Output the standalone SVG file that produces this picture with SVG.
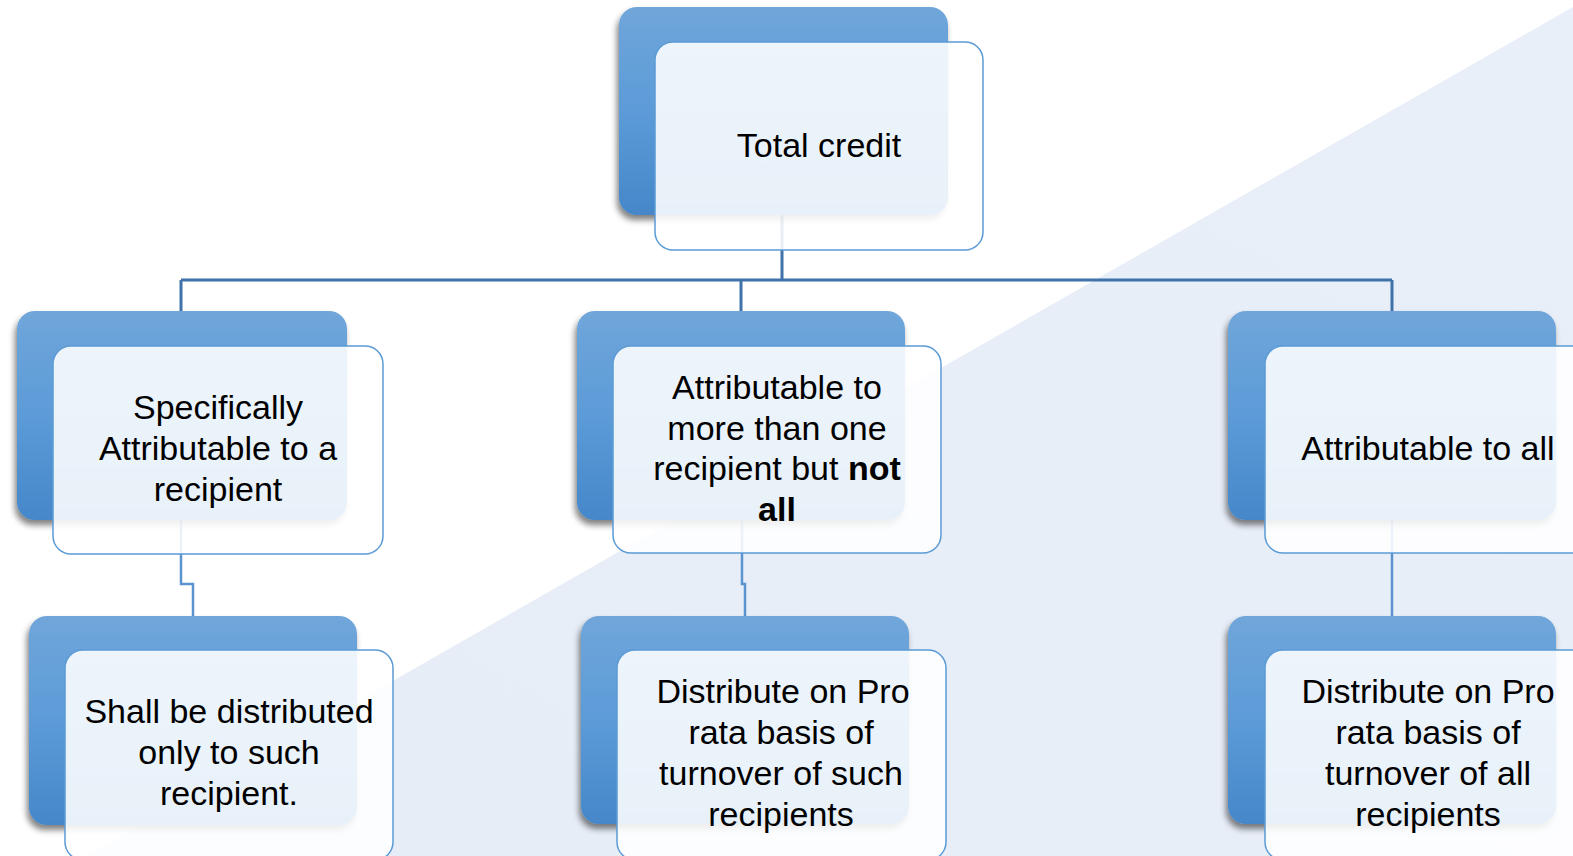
<svg xmlns="http://www.w3.org/2000/svg" width="1573" height="856" viewBox="0 0 1573 856">
<defs>
<linearGradient id="bg" x1="0" y1="1" x2="1" y2="0">
<stop offset="0" stop-color="#e6edf7"/>
<stop offset="1" stop-color="#e9eff8"/>
</linearGradient>
<linearGradient id="blue" x1="0" y1="0" x2="0" y2="1">
<stop offset="0" stop-color="#70a6da"/>
<stop offset="0.5" stop-color="#5c9bd8"/>
<stop offset="1" stop-color="#4587c9"/>
</linearGradient>
<filter id="sh" x="-10%" y="-10%" width="120%" height="125%">
<feGaussianBlur in="SourceAlpha" stdDeviation="3"/>
<feOffset dx="-2" dy="5" result="b"/>
<feComponentTransfer><feFuncA type="linear" slope="0.5"/></feComponentTransfer>
<feMerge><feMergeNode/><feMergeNode in="SourceGraphic"/></feMerge>
</filter>
</defs>
<style>
.back{fill:url(#blue);filter:url(#sh)}
.front{fill:#ffffff;fill-opacity:0.88;stroke:#5b9bd5;stroke-width:1.5}
.t{font-family:"Liberation Sans",Arial,sans-serif;font-size:34px;fill:#000;text-anchor:middle}
.c1{fill:none;stroke:#3f72a8;stroke-width:3}
.c2{fill:none;stroke:#5b93cf;stroke-width:2.5}
</style>
<rect width="1573" height="856" fill="#ffffff"/>
<polygon points="1573,7 1573,856 86,856" fill="url(#bg)"/>
<g id="connectors">
<path class="c1" d="M782,215 V280 M181,280 H1392 M181,280 V311 M741,280 V311 M1392,280 V311"/>
<path class="c2" d="M181,520 V584 H193 V616"/>
<path class="c2" d="M742,520 V584 H745 V616"/>
<path class="c2" d="M1392,520 V616"/>
</g>
<g id="node-total">
<rect class="back" x="619" y="7" width="329" height="208" rx="18"/>
<rect class="front" x="655" y="42" width="328" height="208" rx="18"/>
<text class="t" x="819" y="157">Total credit</text>
</g>
<g id="node-specific">
<rect class="back" x="17" y="311" width="330" height="209" rx="18"/>
<rect class="front" x="53" y="346" width="330" height="208" rx="18"/>
<text class="t" x="218" y="419">Specifically</text>
<text class="t" x="218" y="460">Attributable to a</text>
<text class="t" x="218" y="501">recipient</text>
</g>
<g id="node-morethanone">
<rect class="back" x="577" y="311" width="328" height="209" rx="18"/>
<rect class="front" x="613" y="346" width="328" height="207" rx="18"/>
<text class="t" x="777" y="399">Attributable to</text>
<text class="t" x="777" y="440">more than one</text>
<text class="t" x="777" y="480">recipient but <tspan font-weight="bold">not</tspan></text>
<text class="t" x="777" y="521" font-weight="bold">all</text>
</g>
<g id="node-all">
<rect class="back" x="1228" y="311" width="328" height="209" rx="18"/>
<rect class="front" x="1265" y="346" width="330" height="207" rx="18"/>
<text class="t" x="1428" y="460">Attributable to all</text>
</g>
<g id="node-such">
<rect class="back" x="29" y="616" width="328" height="209" rx="18"/>
<rect class="front" x="65" y="650" width="328" height="210" rx="18"/>
<text class="t" x="229" y="723">Shall be distributed</text>
<text class="t" x="229" y="764">only to such</text>
<text class="t" x="229" y="805">recipient.</text>
</g>
<g id="node-prorata-such">
<rect class="back" x="581" y="616" width="328" height="208" rx="18"/>
<rect class="front" x="617" y="650" width="329" height="210" rx="18"/>
<text class="t" x="783" y="703">Distribute on Pro</text>
<text class="t" x="781" y="744">rata basis of</text>
<text class="t" x="781" y="785">turnover of such</text>
<text class="t" x="781" y="826">recipients</text>
</g>
<g id="node-prorata-all">
<rect class="back" x="1228" y="616" width="328" height="208" rx="18"/>
<rect class="front" x="1265" y="650" width="330" height="210" rx="18"/>
<text class="t" x="1428" y="703">Distribute on Pro</text>
<text class="t" x="1428" y="744">rata basis of</text>
<text class="t" x="1428" y="785">turnover of all</text>
<text class="t" x="1428" y="826">recipients</text>
</g>
</svg>
